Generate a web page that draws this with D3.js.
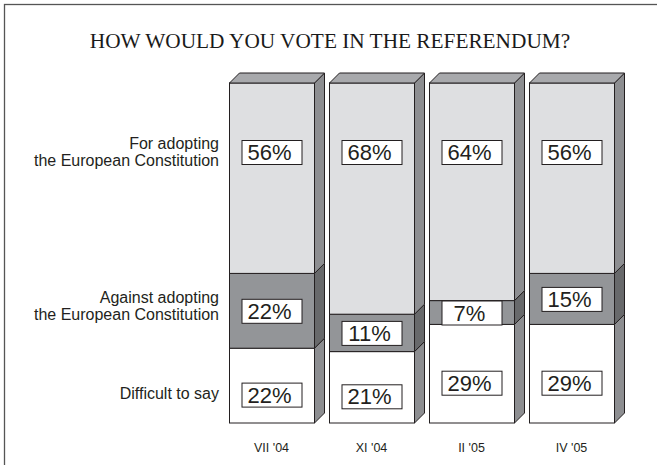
<!DOCTYPE html>
<html>
<head>
<meta charset="utf-8">
<script src="https://cdn.jsdelivr.net/npm/d3@7"></script>
<style>
  html, body { margin: 0; padding: 0; background: #fff; }
  svg { display: block; }
</style>
</head>
<body>
<svg id="chart" width="657" height="465"></svg>
<script>
// Survey periods
const periods = ["VII '04", "XI '04", "II '05", "IV '05"];
// Answer shares (%) per period, stacked bottom to top
const difficult = [22, 21, 29, 29];
const against   = [22, 11, 7, 15];
const forAdopt  = [56, 68, 64, 56];
// Row captions on the left
const rowLabels = [
  ["For adopting", "the European Constitution"],
  ["Against adopting", "the European Constitution"],
  ["Difficult to say"]
];
const title = "HOW WOULD YOU VOTE IN THE REFERENDUM?";

const svg = d3.select("#chart");

// outer frame
svg.append("rect")
  .attr("x", 4.5).attr("y", 4.5)
  .attr("width", 700).attr("height", 500)
  .attr("fill", "none").attr("stroke", "#555").attr("stroke-width", 1.3);

svg.append("text")
  .attr("x", 330).attr("y", 48)
  .attr("text-anchor", "middle")
  .attr("font-family", "'Liberation Serif', 'Times New Roman', serif")
  .attr("font-size", 21.3)
  .attr("fill", "#1a1a1a")
  .text(title);

const x = d3.scaleBand().domain(periods).range([229, 614]).paddingInner(0.15).paddingOuter(0);
const y = d3.scaleLinear().domain([0, 100]).range([423, 83]);
const depth = 10;

const segments = [
  { key: "difficult", values: difficult, front: "#ffffff", side: "#8d8e91" },
  { key: "against",   values: against,   front: "#939598", side: "#68696b" },
  { key: "for",       values: forAdopt,  front: "#dedfe1", side: "#8d8e91" }
];

const stroke = "#231f20";
const bars = [];
periods.forEach((p, i) => {
  let acc = 0;
  segments.forEach(s => {
    const v = s.values[i];
    bars.push({ period: p, seg: s, v0: acc, v1: acc + v, value: v });
    acc += v;
  });
});

const g = svg.append("g");
// front faces
g.selectAll("rect.front").data(bars).join("rect")
  .attr("class", "front")
  .attr("x", d => x(d.period) + 0.5)
  .attr("y", d => y(d.v1))
  .attr("width", x.bandwidth())
  .attr("height", d => y(d.v0) - y(d.v1))
  .attr("fill", d => d.seg.front)
  .attr("stroke", stroke).attr("stroke-width", 1);

// side faces
g.selectAll("path.side").data(bars).join("path")
  .attr("class", "side")
  .attr("d", d => {
    const xr = x(d.period) + x.bandwidth() + 0.5;
    const yt = y(d.v1), yb = y(d.v0);
    return `M${xr},${yt}L${xr + depth},${yt - depth}L${xr + depth},${yb - depth}L${xr},${yb}Z`;
  })
  .attr("fill", d => d.seg.side)
  .attr("stroke", stroke).attr("stroke-width", 1).attr("stroke-linejoin", "round");

// top faces
g.selectAll("path.top").data(periods).join("path")
  .attr("class", "top")
  .attr("d", p => {
    const xl = x(p) + 0.5, xr = xl + x.bandwidth(), yt = y(100);
    return `M${xl},${yt}L${xl + depth},${yt - depth}L${xr + depth},${yt - depth}L${xr},${yt}Z`;
  })
  .attr("fill", "#a8a9ac")
  .attr("stroke", stroke).attr("stroke-width", 1).attr("stroke-linejoin", "round");

// value boxes: top row level with its caption, others within their segment
const boxW = 60, boxH = 24;
function labelY(d) {
  const mid = (y(d.v0) + y(d.v1)) / 2;
  if (d.seg.key === "for") return Math.min(mid, 152);
  if (d.seg.key === "difficult") return mid + 9;
  return mid;
}
const lab = g.selectAll("g.lab").data(bars).join("g").attr("class", "lab")
  .attr("transform", d => `translate(${x(d.period) + x.bandwidth() / 2},${labelY(d)})`);
lab.append("rect")
  .attr("x", -boxW / 2 + 0.5).attr("y", -boxH / 2 + 0.5)
  .attr("width", boxW).attr("height", boxH)
  .attr("fill", "#fff").attr("stroke", stroke).attr("stroke-width", 1);
lab.append("text")
  .attr("x", -2).attr("y", 8)
  .attr("text-anchor", "middle")
  .attr("font-family", "'Liberation Sans', Arial, sans-serif")
  .attr("font-size", 22)
  .attr("fill", "#231f20")
  .text(d => d.value + "%");

// row captions
const rowY = [152, 306, 394];
rowLabels.forEach((lines, r) => {
  const t = svg.append("text")
    .attr("text-anchor", "end")
    .attr("font-family", "'Liberation Sans', Arial, sans-serif")
    .attr("font-size", 16)
    .attr("fill", "#231f20");
  const n = lines.length;
  lines.forEach((ln, k) => {
    t.append("tspan")
      .attr("x", 219)
      .attr("y", rowY[r] + (k - (n - 1) / 2) * 17 + 5)
      .text(ln);
  });
});

// category axis labels
const xAxis = d3.axisBottom(x).tickSize(0).tickPadding(0);
const ax = svg.append("g").attr("transform", "translate(0,443)").call(xAxis);
ax.select(".domain").remove();
ax.selectAll("text")
  .attr("font-family", "'Liberation Sans', Arial, sans-serif")
  .attr("font-size", 12.5)
  .attr("fill", "#231f20");
</script>
</body>
</html>
